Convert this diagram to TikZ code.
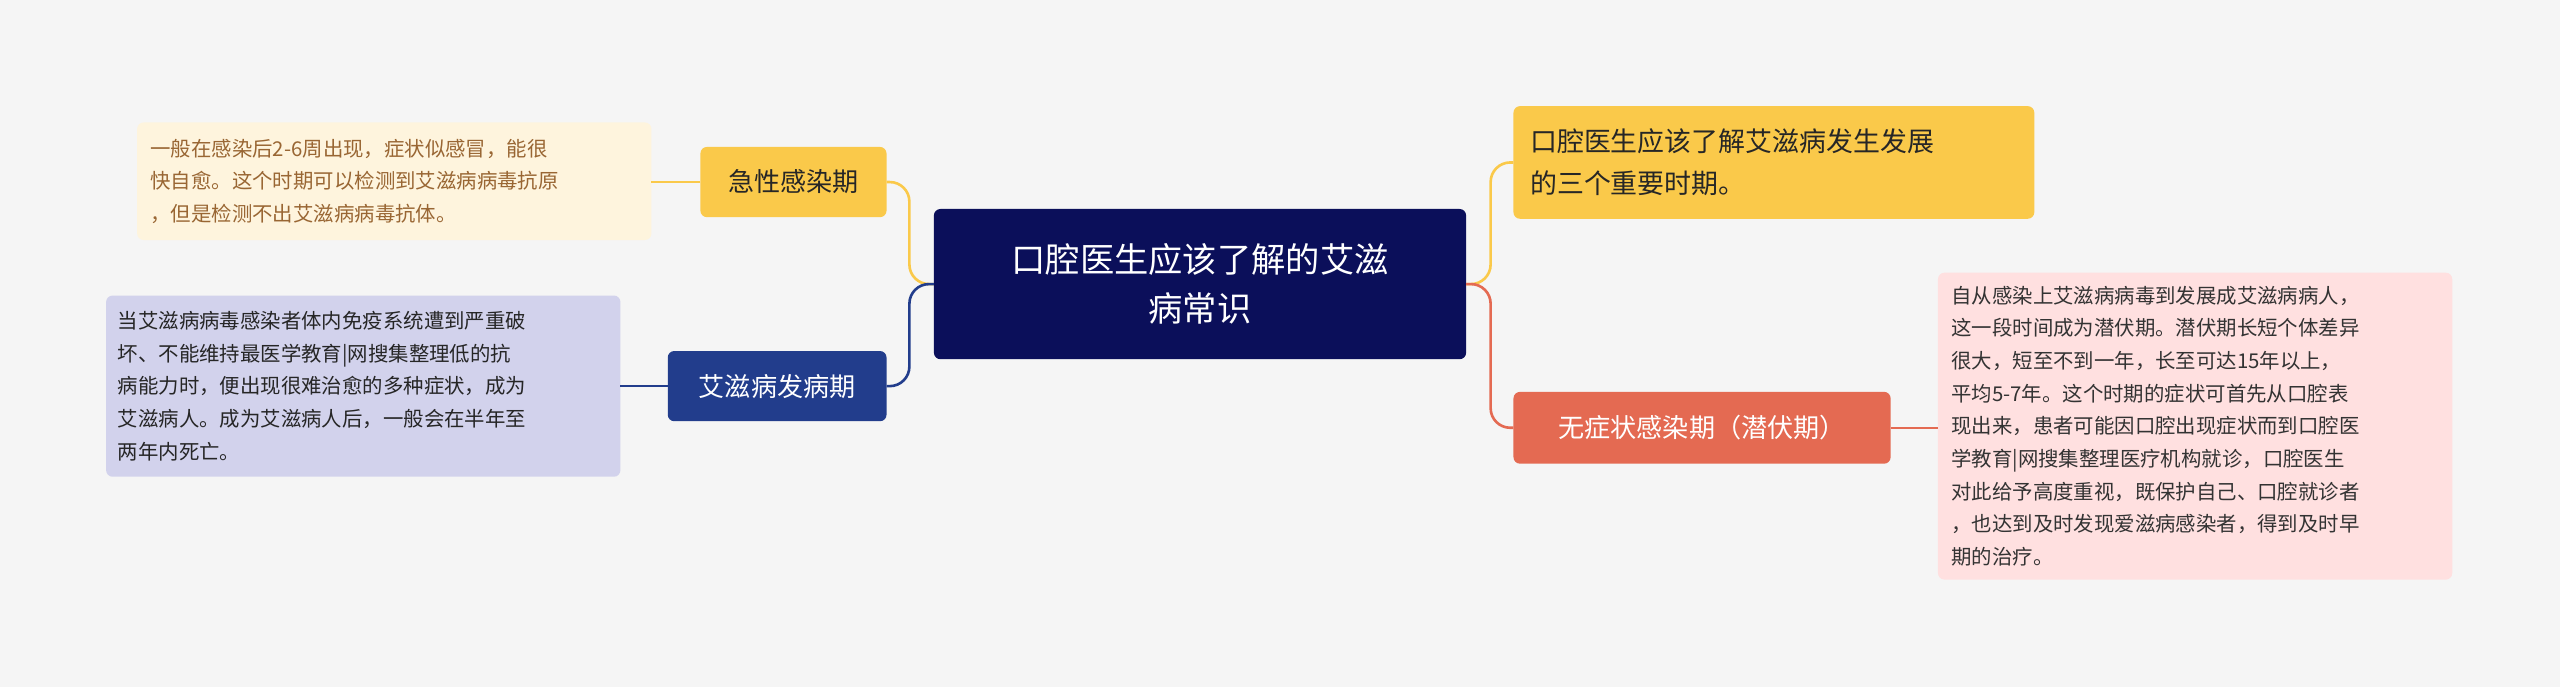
\documentclass[tikz,border=0pt]{standalone}
\usepackage{fontspec}
\setmainfont{Noto Sans CJK SC}
\begin{document}
\begin{tikzpicture}[x=1pt,y=-1pt,
box/.style={rounded corners=4pt,inner sep=0pt,anchor=north west},
desc/.style={font=\fontsize{12.5}{20}\selectfont,align=left,anchor=west,inner sep=0pt},
con/.style={line width=1.6pt,rounded corners=12pt}]
\fill[fill=black!4] (0,0) rectangle (1568,421);
\useasboundingbox (0,0) rectangle (1568,421);
\definecolor{navy}{HTML}{0B0F5A}
\definecolor{yel}{HTML}{FAC94A}
\definecolor{blu}{HTML}{223D8C}
\definecolor{sal}{HTML}{E46A52}
% boxes
\fill[navy,rounded corners=4pt] (572,128) rectangle (898,220);
\node[text=white,font=\fontsize{21}{30}\selectfont,align=center] (c) at (735,174) {口腔医生应该了解的艾滋\\病常识};
\coordinate (cl) at (572,174); \coordinate (cr) at (898,174);
\fill[yel,rounded corners=4pt] (429,90) rectangle (543,133);
\node[font=\fontsize{16}{20}\selectfont,text=black!85] (a) at (486,111.5) {急性感染期};
\coordinate (ar) at (543,111.5); \coordinate (al) at (429,111.5);
\fill[blu,rounded corners=4pt] (409,215) rectangle (543,258);
\node[font=\fontsize{16}{20}\selectfont,text=white] (b) at (476,236.5) {艾滋病发病期};
\coordinate (br) at (543,236.5); \coordinate (bl) at (409,236.5);
\fill[yel,rounded corners=4pt] (927,65) rectangle (1246,134);
\node[font=\fontsize{16.5}{26}\selectfont,align=left,anchor=west,inner sep=0pt,text=black!85] (d) at (937,99.5) {口腔医生应该了解艾滋病发生发展\\的三个重要时期。};
\coordinate (dl) at (927,99.5);
\fill[sal,rounded corners=4pt] (927,240) rectangle (1158,284);
\node[font=\fontsize{16}{20}\selectfont,text=white] (e) at (1042.5,262) {无症状感染期（潜伏期）};
\coordinate (el) at (927,262); \coordinate (er) at (1158,262);
% descs
\fill[yellow!40!orange!12,rounded corners=4pt] (84,75) rectangle (399,147);
\node[desc,text=brown!80!black] (ad) at (92,111) {一般在感染后2-6周出现，症状似感冒，能很\\快自愈。这个时期可以检测到艾滋病病毒抗原\\，但是检测不出艾滋病病毒抗体。};
\coordinate (adr) at (399,111.5);
\fill[blue!40!gray!25,rounded corners=4pt] (65,181) rectangle (380,292);
\node[desc,text=black!85] (bd) at (72,236.5) {当艾滋病病毒感染者体内免疫系统遭到严重破\\坏、不能维持最医学教育|网搜集整理低的抗\\病能力时，便出现很难治愈的多种症状，成为\\艾滋病人。成为艾滋病人后，一般会在半年至\\两年内死亡。};
\coordinate (bdr) at (380,236.5);
\fill[red!12,rounded corners=4pt] (1187,167) rectangle (1502,355);
\node[desc,text=black!80] (ed) at (1195,261) {自从感染上艾滋病病毒到发展成艾滋病病人，\\这一段时间成为潜伏期。潜伏期长短个体差异\\很大，短至不到一年，长至可达15年以上，\\平均5-7年。这个时期的症状可首先从口腔表\\现出来，患者可能因口腔出现症状而到口腔医\\学教育|网搜集整理医疗机构就诊，口腔医生\\对此给予高度重视，既保护自己、口腔就诊者\\，也达到及时发现爱滋病感染者，得到及时早\\期的治疗。};
\coordinate (edl) at (1187,262);
% connectors
\draw[con,yel] (cl) -- (557,174) -- (557,111.5) -- (ar);
\draw[con,blu] (cl) -- (557,174) -- (557,236.5) -- (br);
\draw[con,yel] (cr) -- (913,174) -- (913,99.5) -- (dl);
\draw[con,sal] (cr) -- (913,174) -- (913,262) -- (el);
\draw[line width=1.2pt,yel] (al) -- (adr);
\draw[line width=1.2pt,blu] (bl) -- (bdr);
\draw[line width=1.2pt,sal] (er) -- (edl);
\end{tikzpicture}
\end{document}
